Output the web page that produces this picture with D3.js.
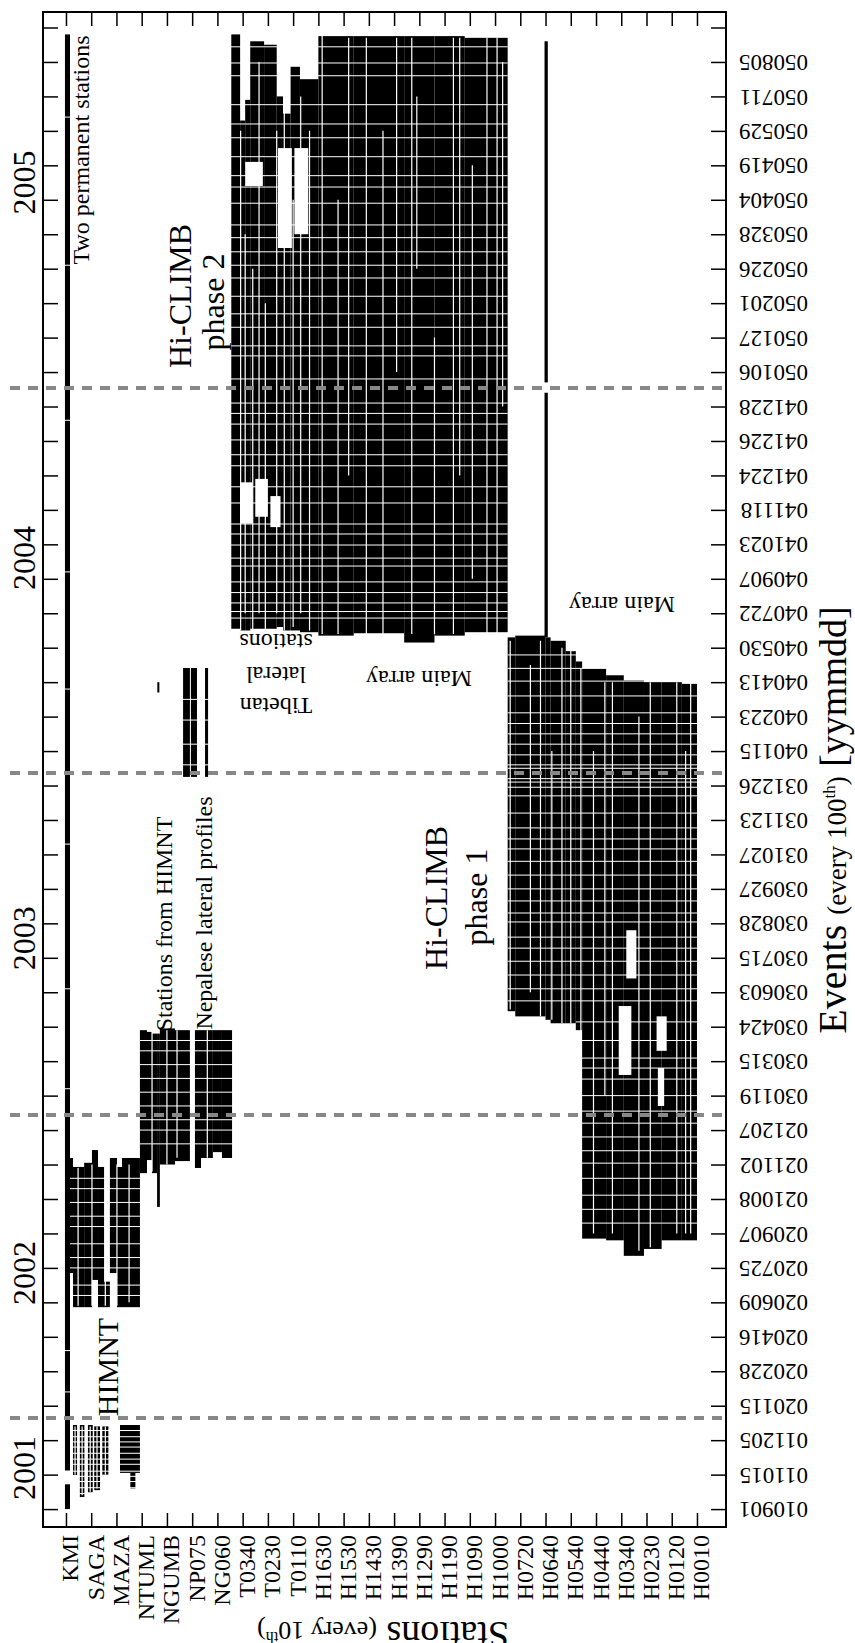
<!DOCTYPE html>
<html>
<head>
<meta charset="utf-8">
<script src="https://cdn.jsdelivr.net/npm/d3@7"></script>
<style>
body { margin: 0; background: #fff; }
text { font-family: "Liberation Serif", "Times New Roman", serif; fill: #000; }
</style>
</head>
<body>
<svg id="chart" width="855" height="1643"></svg>
<script>
const stationLabels = ["KMI", "SAGA", "MAZA", "NTUML", "NGUMB", "NP075", "NG060", "T0340", "T0230", "T0110",
    "H1630", "H1530", "H1430", "H1390", "H1290", "H1190", "H1090", "H1000", "H0720", "H0640",
    "H0540", "H0440", "H0340", "H0230", "H0120", "H0010"];

const dateLabels = ["010901", "011015", "011205", "020115", "020228", "020416", "020609", "020725", "020907", "021008",
    "021102", "021207", "030119", "030315", "030424", "030603", "030715", "030828", "030927", "031027",
    "031123", "031226", "040115", "040223", "040413", "040530", "040722", "040907", "041023", "041118",
    "041224", "041226", "041228", "050106", "050127", "050201", "050226", "050328", "050404", "050419",
    "050529", "050711", "050805"];

const years = ["2001", "2002", "2003", "2004", "2005"];
const yearAt = [1.19, 6.85, 16.57, 27.6, 38.5];      // event index (ticks) where each year label sits
const phaseBreaks = [2.64, 11.44, 21.36, 32.54];     // dashed separators

// recording blocks: [station from, station to, event from, event to]
const permanent = [[-0.4, 1.6, 0, 0.72], [-0.4, 1.6, 1.12, 42.8]];

const himnt2001 = [
    [2.8, 4.4, 0.99, 2.44], [5.5, 7.3, 0.35, 2.44], [8.7, 10.6, 0.49, 2.44],
    [11.2, 13.5, 0.55, 2.4], [14.4, 16.8, 1.0, 2.4], [21.4, 29.3, 1.05, 2.44], [25.5, 27.5, 0.6, 1.05]
];

const himnt2002 = [
    [1.6, 2.8, 6.85, 10.19], [2.8, 4.8, 5.86, 9.93], [4.8, 7.2, 5.86, 9.93], [7.2, 10.3, 5.86, 10.05],
    [10.3, 12.7, 6.65, 10.42], [12.7, 15.1, 5.86, 9.93], [15.1, 17.4, 5.86, 6.6], [17.4, 20.2, 6.85, 10.19],
    [20.2, 22.2, 5.86, 9.93], [22.2, 29.3, 5.86, 10.19]
];

const fromHimnt = [
    [29.3, 32.1, 9.75, 13.9], [32.1, 34.1, 10.13, 13.85], [34.1, 36.1, 9.75, 13.8], [36.1, 37.2, 8.77, 13.8],
    [37.2, 43.2, 10.0, 13.95], [43.2, 49.1, 10.1, 13.9]
];

const nepal = [
    [51.1, 53.5, 9.9, 13.9], [53.5, 58.2, 10.19, 13.9], [58.2, 61.8, 10.36, 13.9], [61.8, 65.8, 10.19, 13.9],
    [46.4, 49.1, 21.25, 24.41], [49.5, 51.9, 21.25, 24.41], [55.1, 56.3, 21.25, 24.41], [36.2, 37.0, 23.7, 24.0]
];

const phase2 = [
    [65.5, 69, 25.55, 42.8], [69, 71, 25.5, 40.3], [71, 73, 25.5, 40.9], [73, 78.5, 25.55, 42.6],
    [78.5, 83.5, 25.55, 42.5], [83.5, 86, 25.6, 41.0], [86, 89, 25.5, 40.5], [89, 92.7, 25.5, 41.86],
    [92.7, 100, 25.45, 41.5],
    [100, 114, 25.35, 42.75], [114, 134, 25.42, 42.75], [134, 146, 25.15, 42.75],
    [146, 158, 25.35, 42.75], [158, 175, 25.45, 42.7],
    [189.6, 190.9, 25.3, 32.4], [189.6, 190.9, 32.7, 42.6]
];

const phase1 = [
    [175, 178, 14.45, 25.3], [178, 190, 14.3, 25.35], [190, 192, 14.2, 25.3], [192, 198, 14.1, 25.2],
    [198, 202, 14.1, 24.9], [202, 204.5, 13.9, 24.6], [204.5, 214, 7.85, 24.4], [214, 221, 7.8, 24.2],
    [221, 229, 7.35, 24.05], [229, 236, 7.55, 24.0], [236, 244, 7.8, 24.0], [244, 250, 7.8, 23.95]
];

// missing data inside blocks
const holes = [
    [69, 74, 28.6, 29.8], [75, 80, 28.8, 29.9], [81, 85, 28.5, 29.4],
    [71, 78, 38.4, 39.1], [84, 89.5, 36.6, 39.5], [90.5, 96, 37.0, 39.5],
    [222, 226, 15.4, 16.8], [219, 224, 12.6, 14.6], [234, 238, 13.3, 14.3], [234.5, 237, 11.7, 12.8]
];

// white vertical lines: [station, event from, event to]
const stationGaps = [
    [3.6, 1.0, 2.4], [6.4, 0.4, 2.4], [9.6, 0.5, 2.4], [12.3, 0.6, 2.4], [15.6, 1.0, 2.4],
    [4.8, 5.9, 9.9], [10.3, 5.9, 10.0], [15.6, 5.9, 10.1], [20.2, 5.9, 10.0], [25, 6.0, 10.0],
    [34.1, 9.8, 13.9], [40, 10.0, 13.9], [44, 10.2, 13.9], [56, 10.2, 13.9],
    [69.2, 25.5, 40], [71, 26, 37], [74, 25.5, 36], [76.5, 26, 42], [79, 25.5, 35], [83.5, 26, 40],
    [86.5, 25.5, 41], [90, 25.6, 38], [93, 26, 41], [96.5, 25.5, 40],
    [101.5, 25.4, 42.75], [107.8, 25.4, 38], [112, 30, 42.7], [119, 25.4, 42.7], [125.6, 25.4, 40],
    [131, 33, 42.7], [137, 25.4, 42.7], [139, 36, 41], [146, 25.4, 34], [153.5, 25.4, 42.7],
    [156, 30, 42.7], [161, 27, 39], [166.8, 25.4, 42.7], [170.8, 25.4, 42.7], [173, 32, 42],
    [176, 14.5, 25.2], [184, 15, 24.5], [188, 14.3, 25.2], [192.5, 14.2, 22], [196.5, 14.1, 25],
    [200, 14.1, 25], [204, 8, 24.4], [209, 8, 22], [213.5, 12, 24], [216.5, 8, 24], [227, 7.5, 23],
    [231.5, 7.6, 24], [242, 8, 24], [245.5, 8, 22], [247.5, 8, 24]
];

// white horizontal lines: [event, station from, station to]
const eventGaps = [
    [3.4, -0.4, 1.6], [4.6, -0.4, 1.6], [12.2, -0.4, 1.6], [15.1, -0.4, 1.6], [19.3, -0.4, 1.6],
    [23.8, -0.4, 1.6], [27.2, -0.4, 1.6], [31.6, -0.4, 1.6], [36.1, -0.4, 1.6], [40.4, -0.4, 1.6],
    [0.45, 2, 30], [0.62, 2, 30], [0.8, 2, 30], [0.95, 2, 30], [1.1, 2, 30], [1.3, 2, 30],
    [1.45, 2, 30], [1.62, 2, 30], [1.8, 2, 30], [1.95, 2, 30], [2.1, 2, 30], [2.28, 2, 30],
    [6.2, 1.6, 29.3], [6.5, 1.6, 29.3], [7.0, 1.6, 29.3], [7.3, 1.6, 29.3], [7.7, 1.6, 29.3],
    [8.2, 1.6, 29.3], [8.5, 1.6, 29.3], [8.9, 1.6, 29.3], [9.3, 1.6, 29.3], [9.6, 1.6, 29.3],
    [10.6, 29.3, 66], [11.0, 29.3, 66], [11.3, 29.3, 66], [11.7, 29.3, 66], [12.1, 29.3, 66],
    [12.5, 29.3, 66], [12.9, 29.3, 66], [13.3, 29.3, 66], [13.6, 29.3, 66],
    [21.6, 46, 57], [22.2, 46, 57], [22.9, 46, 57], [23.5, 46, 57],
    [42.44, 65, 175], [41.97, 65, 175], [41.6, 65, 175], [40.76, 65, 175], [40.2, 65, 175],
    [39.8, 65, 175], [39.25, 65, 175], [38.7, 65, 175], [38.37, 65, 175], [37.9, 65, 175],
    [37.27, 65, 175], [36.9, 65, 175], [36.49, 65, 175], [36.1, 65, 175], [35.73, 65, 175],
    [35.2, 65, 175], [34.69, 65, 175], [34.3, 65, 175], [33.76, 65, 175], [33.47, 65, 175],
    [32.8, 65, 175], [32.1, 65, 175], [31.8, 65, 175], [31.49, 65, 175], [31.03, 65, 175],
    [30.6, 65, 175], [30.28, 65, 175], [29.67, 65, 175], [29.2, 65, 175], [28.59, 65, 175],
    [28.3, 65, 175], [27.98, 65, 175], [27.6, 65, 175], [27.37, 65, 175], [26.91, 65, 175],
    [26.6, 65, 175], [26.3, 65, 175], [26.05, 65, 175], [25.86, 65, 175],
    [24.79, 175, 250], [24.4, 175, 250], [24.03, 175, 250], [23.6, 175, 250], [23.11, 175, 250],
    [22.8, 175, 250], [22.5, 175, 250], [22.2, 175, 250], [21.89, 175, 250],
    [21.6, 175, 250], [21.5, 175, 250], [21.2, 175, 250], [21.1, 175, 250], [20.95, 175, 250],
    [20.7, 175, 250], [20.2, 175, 250], [19.77, 175, 250], [19.45, 175, 250], [19.16, 175, 250],
    [18.8, 175, 250], [18.4, 175, 250], [18.0, 175, 250], [17.65, 175, 250], [17.3, 175, 250],
    [17.04, 175, 250], [16.6, 175, 250], [16.28, 175, 250], [15.9, 175, 250], [15.5, 175, 250],
    [15.1, 175, 250], [14.75, 175, 250], [14.14, 202, 250], [13.6, 202, 250],
    [13.09, 202, 250], [12.8, 202, 250], [12.48, 202, 250], [12.0, 202, 250], [11.55, 202, 250],
    [11.2, 202, 250], [10.8, 202, 250], [10.4, 202, 250], [10.04, 202, 250], [9.6, 202, 250],
    [9.11, 202, 250], [8.7, 202, 250], [8.3, 202, 250]
];

const svg = d3.select("#chart");
const frame = { left: 43, right: 726, top: 12, bottom: 1527 };

const x = d3.scaleLinear().domain([-9.1, 261.5]).range([frame.left, frame.right]);
const y = d3.scaleLinear().domain([-0.52, 43.45]).range([frame.bottom, frame.top]);

svg.append("defs").append("clipPath").attr("id", "frame")
    .append("rect").attr("x", frame.left).attr("y", frame.top)
    .attr("width", frame.right - frame.left).attr("height", frame.bottom - frame.top);

const plot = svg.append("g").attr("clip-path", "url(#frame)");

const box = sel => sel
    .attr("x", d => x(d[0]))
    .attr("y", d => y(d[3]))
    .attr("width", d => x(d[1]) - x(d[0]))
    .attr("height", d => y(d[2]) - y(d[3]));

plot.selectAll(".blk")
    .data([...permanent, ...himnt2001, ...himnt2002, ...fromHimnt, ...nepal, ...phase2, ...phase1])
    .join("rect").attr("class", "blk").call(box).attr("fill", "#000");

plot.selectAll(".hole").data(holes)
    .join("rect").attr("class", "hole").call(box).attr("fill", "#fff");

plot.selectAll(".sgap").data(stationGaps)
    .join("line").attr("class", "sgap")
    .attr("x1", d => x(d[0])).attr("x2", d => x(d[0]))
    .attr("y1", d => y(d[1])).attr("y2", d => y(d[2]))
    .attr("stroke", "#fff").attr("stroke-width", 1.2);

plot.selectAll(".egap").data(eventGaps)
    .join("line").attr("class", "egap")
    .attr("x1", d => x(d[1])).attr("x2", d => x(d[2]))
    .attr("y1", d => y(d[0])).attr("y2", d => y(d[0]))
    .attr("stroke", "#fff").attr("stroke-width", 1);

svg.selectAll(".phase").data(phaseBreaks)
    .join("line").attr("class", "phase")
    .attr("x1", 10).attr("x2", 722)
    .attr("y1", d => y(d)).attr("y2", d => y(d))
    .attr("stroke", "#888").attr("stroke-width", 4).attr("stroke-dasharray", "10,8");

// axes
const stationTicks = stationLabels.map((d, i) => i * 10);
const eventTicks = d3.range(dateLabels.length + 1);

const xBottom = svg.append("g").attr("transform", `translate(0,${frame.bottom})`)
    .call(d3.axisBottom(x).tickValues(stationTicks)
        .tickFormat((d, i) => stationLabels[i]).tickSizeInner(-14).tickSizeOuter(0));
xBottom.selectAll("text")
    .attr("transform", "rotate(-90)")
    .attr("x", -8).attr("y", 0).attr("dy", "0.5em")
    .style("text-anchor", "end").style("font-size", "24px")
    .style("font-family", "Liberation Serif");

svg.append("g").attr("transform", `translate(0,${frame.top})`)
    .call(d3.axisTop(x).tickValues(stationTicks).tickFormat("").tickSizeInner(-14).tickSizeOuter(0));

svg.append("g").attr("transform", `translate(${frame.left},0)`)
    .call(d3.axisLeft(y).tickValues(eventTicks).tickFormat("").tickSizeInner(-15).tickSizeOuter(0));

const yRight = svg.append("g").attr("transform", `translate(${frame.right},0)`)
    .call(d3.axisRight(y).tickValues(eventTicks)
        .tickFormat(d => dateLabels[d] || "").tickSizeInner(-15).tickSizeOuter(0));
yRight.selectAll("text")
    .attr("x", 0).attr("dy", "0.32em")
    .attr("transform", "translate(82,0) rotate(180)")
    .style("text-anchor", "start").style("font-size", "23px")
    .style("font-family", "Liberation Serif");

svg.selectAll(".domain").remove();
svg.selectAll(".tick line").attr("stroke", "#000").attr("stroke-width", 1.5);

svg.append("rect")
    .attr("x", frame.left).attr("y", frame.top)
    .attr("width", frame.right - frame.left).attr("height", frame.bottom - frame.top)
    .attr("fill", "none").attr("stroke", "#000").attr("stroke-width", 2);

// year labels on the left
svg.selectAll(".year").data(years)
    .join("text").attr("class", "year")
    .attr("transform", (d, i) => `translate(35,${y(yearAt[i])}) rotate(-90)`)
    .attr("text-anchor", "middle").style("font-size", "32px")
    .text(d => d);

// annotations
function note(txt, tx, ty, rot, size) {
    svg.append("text")
        .attr("transform", `translate(${tx},${ty}) rotate(${rot})`)
        .attr("text-anchor", "middle").style("font-size", size + "px")
        .text(txt);
}
note("Two permanent stations", 89, 150, -90, 24);
note("HIMNT", 118, 1367, -90, 30);
note("Stations from HIMNT", 172, 924, -90, 24);
note("Nepalese lateral profiles", 212, 913, -90, 24);
note("Hi-CLIMB", 191, 296, -90, 32);
note("phase 2", 224, 302, -90, 32);
note("Hi-CLIMB", 447, 898, -90, 32);
note("phase 1", 487, 897, -90, 32);
note("Tibetan", 276, 698, 180, 24);
note("lateral", 276, 667, 180, 24);
note("stations", 276, 634, 180, 24);
note("Main array", 419, 671, 180, 24);
note("Main array", 622, 597, 180, 24);

// axis titles
const evTitle = svg.append("text")
    .attr("transform", "translate(846,820) rotate(-90)")
    .attr("text-anchor", "middle");
evTitle.append("tspan").style("font-size", "40px").text("Events ");
evTitle.append("tspan").style("font-size", "27px").text("(every 100");
evTitle.append("tspan").style("font-size", "17px").attr("dy", -11).text("th");
evTitle.append("tspan").style("font-size", "27px").attr("dy", 11).text(")");
evTitle.append("tspan").style("font-size", "38px").text(" [yymmdd]");

const stTitle = svg.append("text")
    .attr("transform", "translate(257,1622) rotate(180)")
    .attr("text-anchor", "end");
stTitle.append("tspan").style("font-size", "38px").text("Stations ");
stTitle.append("tspan").style("font-size", "26px").text("(every 10");
stTitle.append("tspan").style("font-size", "16px").attr("dy", -10).text("th");
stTitle.append("tspan").style("font-size", "26px").attr("dy", 10).text(")");
</script>
</body>
</html>
